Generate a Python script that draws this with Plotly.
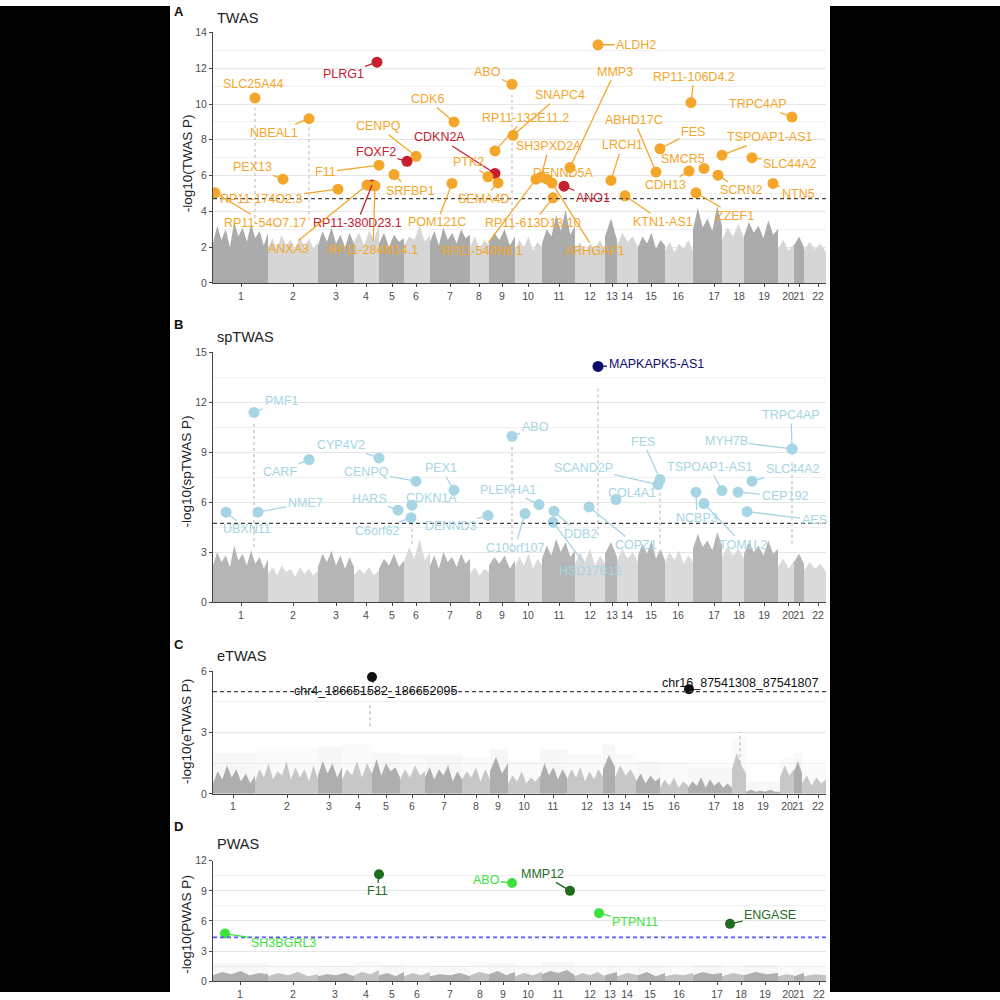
import plotly.graph_objects as go

FONT = "Liberation Sans, Arial, sans-serif"
CHR = [str(i) for i in range(1, 23)]

# ---- chromosome layout (cumulative position, arbitrary units) ----
bounds_abd = [0, 55, 105, 141, 166, 191, 217, 257, 276, 302, 329, 362, 392, 404, 425, 452, 480, 509, 531, 565, 581, 591, 613]
bounds_c = [0, 42, 105, 129, 159, 187, 212, 249, 277, 295, 327, 354, 390, 402, 423, 447, 475, 519, 533, 567, 581, 589, 613]
ticks_a = [28, 80, 123, 153, 179, 203, 237, 266, 289, 315, 346, 377, 399, 414, 438, 465, 501, 526, 551, 575, 586, 605]
ticks_c = [20, 74, 116, 145, 173, 199, 231, 263, 285, 311, 340, 374, 395, 412, 435, 461, 501, 525, 550, 574, 585, 605]
ticks_d = [27, 80, 122, 153, 179, 204, 237, 267, 290, 315, 345, 377, 397, 414, 437, 466, 504, 528, 552, 575, 586, 606]

# ---- background (sub-threshold) signal profile along each chromosome ----
bgA = [
    [2.2, 3.2, 2.4, 3.0, 2.0, 3.4, 2.6, 3.1, 2.3, 3.3, 2.5, 2.9, 2.1, 2.8],
    [2.0, 2.5, 1.9, 2.7, 2.1, 2.4, 1.8, 2.6, 2.0, 2.5, 1.9, 2.3],
    [2.1, 2.9, 2.3, 3.1, 2.2, 2.7, 2.0, 2.8, 2.2],
    [2.3, 2.8, 2.1, 2.9, 2.4, 3.3],
    [2.2, 2.8, 2.0, 2.7, 2.3, 2.5],
    [2.1, 2.6, 2.4, 3.2, 2.3, 2.7],
    [2.3, 2.9, 2.1, 3.1, 2.4, 2.8, 2.2, 3.0, 2.5, 2.7],
    [2.0, 2.6, 1.9, 2.4, 2.1],
    [2.2, 2.8, 2.4, 3.0, 2.1, 2.6],
    [1.9, 2.4, 2.0, 2.6, 1.8, 2.3, 2.0],
    [2.2, 3.0, 2.6, 3.8, 2.9, 4.1, 2.7, 3.2],
    [1.8, 2.3, 1.7, 2.2, 1.9, 2.4, 1.8],
    [2.6, 3.6, 2.4],
    [2.1, 2.8, 2.3, 2.6, 2.0],
    [2.0, 2.6, 2.2, 2.8, 1.9, 2.4, 2.1],
    [1.8, 2.3, 1.7, 2.2, 1.9, 2.4, 1.8],
    [3.0, 4.2, 3.1, 3.6, 2.9, 4.3, 3.2],
    [2.4, 3.1, 2.6, 3.3, 2.5],
    [2.6, 3.4, 2.8, 3.2, 2.5, 3.5, 2.7, 3.0],
    [1.9, 2.4, 1.8, 2.2],
    [2.1, 2.6, 2.0],
    [1.8, 2.3, 1.9, 2.2, 1.7],
]
bgB = [
    [2.2, 3.0, 2.4, 2.8, 2.1, 3.4, 2.5, 2.9, 2.2, 3.1, 2.3, 2.7, 2.0, 2.6],
    [1.7, 2.1, 1.6, 2.2, 1.8, 2.0, 1.5, 2.1, 1.7, 2.0, 1.6, 1.9],
    [2.1, 2.9, 2.4, 3.1, 2.2, 2.8, 2.0, 2.7, 2.1],
    [1.6, 2.0, 1.7, 2.1, 1.6, 1.9],
    [2.0, 2.6, 2.2, 2.9, 2.1, 2.5],
    [2.4, 3.3, 2.6, 3.8, 2.5, 3.0],
    [2.2, 2.8, 2.0, 3.0, 2.4, 2.7, 2.1, 2.9, 2.3, 2.6],
    [1.7, 2.1, 1.6, 2.0, 1.8],
    [2.2, 2.7, 2.3, 2.8, 2.0, 2.5],
    [2.1, 2.7, 2.2, 2.9, 2.0, 2.6, 2.2],
    [2.6, 3.4, 2.8, 3.8, 3.0, 3.6, 2.7, 3.1],
    [2.3, 3.0, 2.4, 3.2, 2.2, 2.8, 2.3],
    [2.9, 3.6, 2.7],
    [2.5, 3.2, 2.6, 3.0, 2.4],
    [2.8, 3.5, 2.9, 3.7, 2.6, 3.2, 2.5],
    [2.4, 3.0, 2.5, 3.1, 2.3, 2.8, 2.4],
    [3.2, 4.1, 3.3, 3.7, 3.1, 4.2, 3.4],
    [2.7, 3.3, 2.8, 3.2, 2.6],
    [2.9, 3.6, 3.0, 3.4, 2.8, 3.7, 2.9, 3.2],
    [2.1, 2.6, 2.0, 2.5],
    [2.4, 2.9, 2.3],
    [1.9, 2.4, 2.0, 2.3, 1.8],
]
bgC = [
    [0.5, 1.1, 0.7, 1.4, 0.8, 1.2, 0.6, 1.0, 0.5, 0.9],
    [0.6, 1.2, 0.8, 1.5, 0.7, 1.1, 0.9, 1.6, 0.7, 1.3, 0.8, 1.2, 0.6, 1.4, 0.7],
    [0.9, 1.6, 1.0, 1.5, 0.8, 1.3],
    [0.7, 1.2, 0.9, 1.6, 0.8, 1.5, 1.0],
    [1.0, 1.7, 0.9, 1.5, 1.1, 1.3, 0.8],
    [0.7, 1.2, 0.8, 1.4, 0.9, 1.1],
    [0.8, 1.3, 0.7, 1.2, 0.9, 1.4, 0.6, 1.1, 0.7],
    [0.7, 1.1, 0.8, 1.3, 0.6, 1.2, 0.7],
    [1.1, 1.8, 1.0, 1.5],
    [0.5, 0.9, 0.6, 1.1, 0.5, 0.8, 0.6, 0.9],
    [0.8, 1.5, 0.9, 1.3, 0.7, 1.2, 0.8],
    [0.7, 1.2, 0.8, 1.3, 0.6, 1.1, 0.7, 1.2, 0.8],
    [1.2, 1.9, 1.3],
    [0.8, 1.4, 0.9, 1.2, 0.7],
    [0.6, 1.0, 0.5, 0.9, 0.6, 0.8],
    [0.3, 0.7, 0.4, 0.8, 0.3, 0.6, 0.4],
    [0.3, 0.6, 0.4, 0.8, 0.3, 0.7, 0.4, 0.6, 0.3, 0.5, 0.3],
    [1.2, 2.0, 1.4, 1.0],
    [0.1, 0.2, 0.1, 0.15, 0.1, 0.2, 0.1, 0.1],
    [0.8, 1.4, 0.9, 1.2],
    [1.1, 1.6, 1.0],
    [0.5, 0.9, 0.4, 0.8, 0.5, 0.7],
]
bgC_fuzz = [2.0, 2.2, 2.3, 2.4, 2.0, 2.0, 1.9, 1.8, 2.2, 1.6, 2.2, 2.0, 2.4, 2.0, 1.6, 1.5, 1.3, 2.7, 0.6, 1.7, 2.0, 1.3]
bgD = [
    [0.6, 0.9, 0.7, 1.0, 0.6, 0.8, 0.7], [0.5, 0.8, 0.6, 0.9, 0.5, 0.7], [0.5, 0.7, 0.6, 0.8, 0.5],
    [0.6, 0.9, 0.7, 1.1], [0.6, 0.8, 0.5, 0.9], [0.5, 0.8, 0.6, 0.9], [0.5, 0.7, 0.6, 0.8, 0.5],
    [0.6, 0.9, 0.7], [0.7, 1.0, 0.6, 0.9], [0.5, 0.8, 0.6, 0.9], [0.7, 1.0, 0.8, 1.1, 0.6],
    [0.5, 0.8, 0.6, 0.9, 0.5], [0.6, 0.9], [0.5, 0.8, 0.6], [0.6, 0.9, 0.5, 0.8], [0.5, 0.7, 0.6, 0.8],
    [0.6, 0.9, 0.7, 0.8], [0.5, 0.8, 0.6], [0.6, 0.9, 0.7, 0.8], [0.5, 0.7, 0.6], [0.5, 0.8], [0.5, 0.7, 0.6],
]
bgD_fuzz = [1.8, 1.6, 1.5, 1.9, 1.7, 1.6, 1.5, 1.8, 1.8, 1.6, 1.9, 1.6, 1.6, 1.5, 1.6, 1.5, 1.7, 1.5, 1.6, 1.4, 1.4, 1.4]

# columns of sub-threshold points under strong hits
spikeA_pos = [42, 96, 299]
spikeA_lo = [3.3, 3.5, 3.0]
spikeA_hi = [9.8, 8.8, 10.5]
spikeB_pos = [41, 299, 447, 579, 385, 199]
spikeB_lo = [3.3, 3.0, 3.5, 3.5, 4.0, 3.5]
spikeB_hi = [10.8, 9.3, 6.8, 8.5, 13.0, 5.0]
spikeC_pos = [157, 527]
spikeC_lo = [3.3, 1.5]
spikeC_hi = [4.4, 3.0]

# ---- significant hits ----
twas_gene = ["SLC25A44", "PLRG1", "NBEAL1", "CDK6", "CENPQ", "CDKN2A", "FOXF2", "PEX13", "F11", "SRFBP1",
             "PTK2", "RP11-174O2.3", "RP11-380D23.1", "ANXA3", "RP11-284M14.1", "RP11-54O7.17", "POM121C",
             "SEMA4D", "RP11-540N6.1", "SH3PXD2A", "DENND5A", "ARHGAP1", "RP11-613D13.10", "ANO1", "ALDH2",
             "ABO", "MMP3", "RP11-106D4.2", "TRPC4AP", "SNAPC4", "RP11-132E11.2", "ABHD17C", "FES",
             "TSPOAP1-AS1", "SLC44A2", "SMCR5", "CDH13", "LRCH1", "KTN1-AS1", "ZZEF1", "SCRN2", "NTN5"]
twas_pos = [42, 164, 96, 241, 203, 282, 194, 70, 166, 181, 275, 125, 159, 154, 162, 2, 239, 285, 323, 328,
            334, 339, 340, 351, 385, 299, 357, 478, 579, 300, 282, 443, 447, 509, 539, 491, 476, 398, 412,
            483, 505, 560]
twas_logp = [10.33, 12.34, 9.18, 9.0, 7.08, 6.12, 6.8, 5.8, 6.58, 6.06, 5.93, 5.24, 5.47, 5.47, 5.43, 5.04,
             5.56, 5.59, 5.80, 5.91, 5.80, 5.58, 4.76, 5.41, 13.31, 11.1, 6.45, 10.08, 9.27, 8.25, 7.38,
             6.2, 7.5, 7.14, 7.0, 6.4, 6.25, 5.73, 4.87, 5.04, 6.02, 5.56]
twas_red = ["PLRG1", "CDKN2A", "FOXF2", "RP11-380D23.1", "ANO1"]
twas_off = [(-2, -14), (-34, 12), (-35, 14), (-27, -23), (-38, -30), (-56, -36), (-31, -9), (-31, -12),
            (-54, 7), (16, 16), (-20, -15), (-77, 10), (-15, 38), (-79, 64), (-2, 64), (50, 30), (-15, 39),
            (-15, 16), (-54, 72), (8, -31), (16, -6), (43, 68), (-20, 25), (29, 12), (38, 0), (-25, -12),
            (45, -96), (3, -26), (-34, -13), (47, -40), (30, -33), (-22, -52), (33, -17), (47, -18), (38, 6),
            (-21, -9), (-24, 14), (11, -35), (38, 26), (39, 23), (23, 15), (25, 11)]

sp_gene = ["PMF1", "CARF", "CYP4V2", "CENPQ", "PEX1", "NME7", "UBXN11", "HARS", "CDKN1A", "C6orf62",
           "DENND3", "PLEKHA1", "C10orf107", "ABO", "DDB2", "HSD17B12", "COPZ1", "COL4A1", "SCAND2P", "FES",
           "MAPKAPK5-AS1", "MYH7B", "TRPC4AP", "TSPOAP1-AS1", "SLC44A2", "CEP192", "NCBP3", "TOM1L2", "AES"]
sp_pos = [41, 96, 166, 203, 241, 45, 13, 185, 199, 198, 275, 326, 312, 299, 341, 340, 376, 403, 445, 447,
          385, 579, 579, 509, 539, 525, 483, 491, 534]
sp_logp = [11.38, 8.55, 8.65, 7.25, 6.71, 5.39, 5.39, 5.51, 5.81, 5.06, 5.2, 5.85, 5.31, 9.95, 5.45, 4.79,
           5.71, 6.15, 7.05, 7.35, 14.14, 9.19, 9.19, 6.69, 7.25, 6.59, 6.59, 5.91, 5.42]
sp_top = ["MAPKAPK5-AS1"]
sp_off = [(27, -11), (-29, 12), (-38, -13), (-50, -9), (-13, -22), (47, -9), (21, 17), (-29, -11), (19, -7),
          (-34, 13), (-38, 11), (-31, -15), (-10, 34), (23, -9), (26, 23), (37, 49), (47, 38), (16, -7),
          (-75, -17), (-17, -38), (58, -2), (-66, -8), (-1, -34), (-13, -24), (41, -12), (47, 4), (1, 26),
          (39, 41), (67, 8)]

e_id = ["chr4_186651582_186652095", "chr16_87541308_87541807"]
e_pos = [159, 476]
e_logp = [5.71, 5.12]
e_off = [(3, 14), (51, -6)]

p_gene = ["SH3BGRL3", "F11", "ABO", "MMP12", "PTPN11", "ENGASE"]
p_pos = [12, 166, 299, 357, 386, 517]
p_logp = [4.74, 10.65, 9.78, 9.0, 6.78, 5.71]
p_dark = ["F11", "MMP12", "ENGASE"]
p_off = [(58, 9), (-2, 17), (-26, -3), (-28, -17), (36, 9), (40, -9)]

thresholds = [4.71, 4.72, 5.0, 4.36]

# ---- colours ----
ORANGE = "#F4A62A"
RED = "#C5202E"
LBLUE = "#A6D5E3"
NAVY = "#0B0B6B"
DGREEN = "#1F6B1F"
BGREEN = "#3BE33B"

fig = go.Figure()


def ax_names(k):
    s = "" if k == 1 else str(k)
    return "x" + s, "y" + s


def add_profile(k, bounds, prof, dark, light, op):
    xa, ya = ax_names(k)
    for i in range(22):
        a, b = bounds[i], bounds[i + 1]
        n = len(prof[i])
        if n == 1:
            xs = [a, b]
            ys = [prof[i][0], prof[i][0]]
        else:
            xs = [a + (b - a) * j / (n - 1) for j in range(n)]
            ys = list(prof[i])
        col = dark if i % 2 == 0 else light
        fig.add_trace(go.Scatter(x=[a] + xs + [b], y=[0] + ys + [0], mode="lines", fill="toself",
                                 fillcolor=col, line=dict(width=0, color=col), opacity=op,
                                 xaxis=xa, yaxis=ya, hoverinfo="skip", showlegend=False))


def add_fuzz(k, bounds, fuzz, dark, light, op):
    xa, ya = ax_names(k)
    fx = [(bounds[i] + bounds[i + 1]) / 2 for i in range(22)]
    fw = [bounds[i + 1] - bounds[i] for i in range(22)]
    fc = [dark if i % 2 == 0 else light for i in range(22)]
    fig.add_trace(go.Bar(x=fx, y=fuzz, width=fw, marker=dict(color=fc, line=dict(width=0)),
                         opacity=op, xaxis=xa, yaxis=ya, hoverinfo="skip", showlegend=False))


def add_spikes(k, pos, lo, hi, color):
    xa, ya = ax_names(k)
    xs, ys = [], []
    for p, l, h in zip(pos, lo, hi):
        xs += [p, p, None]
        ys += [l, h, None]
    fig.add_trace(go.Scatter(x=xs, y=ys, mode="lines", line=dict(color=color, width=1.6, dash="dot"),
                             opacity=0.55, xaxis=xa, yaxis=ya, hoverinfo="skip", showlegend=False))


add_profile(1, bounds_abd, bgA, "#ababab", "#d6d6d6", 1.0)
add_profile(2, bounds_abd, bgB, "#b5b5b5", "#dadada", 1.0)
add_fuzz(3, bounds_c, bgC_fuzz, "#9a9a9a", "#b8b8b8", 0.08)
add_profile(3, bounds_c, bgC, "#8f8f8f", "#b0b0b0", 0.7)
add_fuzz(4, bounds_abd, bgD_fuzz, "#9a9a9a", "#b8b8b8", 0.08)
add_profile(4, bounds_abd, bgD, "#909090", "#ababab", 0.7)
add_spikes(1, spikeA_pos, spikeA_lo, spikeA_hi, "#b0b0b0")
add_spikes(2, spikeB_pos, spikeB_lo, spikeB_hi, "#a8a8a8")
add_spikes(3, spikeC_pos, spikeC_lo, spikeC_hi, "#a0a0a0")

annots = []


def add_hits(k, names, pos, logp, colors, offs, size, fsize):
    xa, ya = ax_names(k)
    fig.add_trace(go.Scatter(x=pos, y=logp, mode="markers",
                             marker=dict(color=colors, size=size, line=dict(width=0)),
                             xaxis=xa, yaxis=ya, hoverinfo="skip", showlegend=False))
    for n, p, v, c, (dx, dy) in zip(names, pos, logp, colors, offs):
        annots.append(dict(x=p, y=v, xref=xa, yref=ya, text=n, showarrow=True, arrowhead=0,
                           arrowwidth=1.3, arrowcolor=c, ax=dx, ay=dy, standoff=0,
                           font=dict(family=FONT, size=fsize, color=c)))


add_hits(1, twas_gene, twas_pos, twas_logp, [RED if g in twas_red else ORANGE for g in twas_gene],
         twas_off, 11, 12.5)
add_hits(2, sp_gene, sp_pos, sp_logp, [NAVY if g in sp_top else LBLUE for g in sp_gene], sp_off, 11, 12.5)
add_hits(3, e_id, e_pos, e_logp, ["#111111"] * len(e_id), e_off, 10, 12.5)
add_hits(4, p_gene, p_pos, p_logp, [DGREEN if g in p_dark else BGREEN for g in p_gene], p_off, 10, 12.5)

# ---- layout: 4 stacked panels ----
panels = [
    ([0.7191, 0.9732], [0, 14], list(range(0, 15, 2)), 1, ticks_a, "A", "TWAS", "-log10(TWAS P)", 0.8406, 0.994, 0.988),
    ([0.3955, 0.649], [0, 15], list(range(0, 16, 3)), 1.5, ticks_a, "B", "spTWAS", "-log10(spTWAS P)", 0.5278, 0.6766, 0.6645),
    ([0.201, 0.3254], [0, 6], [0, 3, 6], 1.5, ticks_c, "C", "eTWAS", "-log10(eTWAS P)", 0.2637, 0.3527, 0.3406),
    ([0.011, 0.1331], [0, 12], [0, 3, 6, 9, 12], 1.5, ticks_d, "D", "PWAS", "-log10(PWAS P)", 0.0683, 0.1675, 0.1503),
]

layout = dict(width=1000, height=1000, margin=dict(l=0, r=0, t=0, b=0), paper_bgcolor="white",
              plot_bgcolor="white", barmode="overlay", showlegend=False, font=dict(family=FONT))
shapes = []
for i, (ydom, yr, ytv, mdt, xt, letter, title, ytitle, yty, ly, ty) in enumerate(panels):
    k = i + 1
    s = "" if k == 1 else str(k)
    layout["xaxis" + s] = dict(domain=[0.213, 0.826], range=[0, 613], anchor="y" + s, tickvals=xt,
                               ticktext=CHR, ticks="outside", ticklen=3, tickcolor="#444", tickangle=0,
                               showline=True, linecolor="#444", linewidth=1, showgrid=False,
                               zeroline=False, tickfont=dict(size=10.5, color="#4d4d4d", family=FONT))
    layout["yaxis" + s] = dict(domain=ydom, range=yr, anchor="x" + s, tickvals=ytv, ticks="outside",
                               ticklen=3, tickcolor="#444", showline=True, linecolor="#444", linewidth=1,
                               showgrid=True, gridcolor="#e6e6e6", gridwidth=1, zeroline=False,
                               minor=dict(dtick=mdt, showgrid=True, gridcolor="#f0f0f0", gridwidth=0.8),
                               tickfont=dict(size=10.5, color="#4d4d4d", family=FONT))
    thr_color = "#5c5cff" if k == 4 else "#444444"
    thr_width = 1.8 if k == 4 else 1.4
    shapes.append(dict(type="line", xref="x" + s + " domain", yref="y" + s, x0=0, x1=1,
                       y0=thresholds[i], y1=thresholds[i],
                       line=dict(color=thr_color, width=thr_width, dash="4px,3px")))
    annots.append(dict(x=0.172, y=ly, xref="paper", yref="paper", text="<b>" + letter + "</b>",
                       showarrow=False, xanchor="left", yanchor="middle",
                       font=dict(size=13, color="#111", family=FONT)))
    annots.append(dict(x=0.215, y=ty, xref="paper", yref="paper", text=title, showarrow=False,
                       xanchor="left", yanchor="middle", font=dict(size=14.5, color="#222", family=FONT)))
    annots.append(dict(x=0.187, y=yty, xref="paper", yref="paper", text=ytitle, showarrow=False,
                       textangle=-90, xanchor="center", yanchor="middle",
                       font=dict(size=13.5, color="#222", family=FONT)))

# black side bands of the figure image
shapes.append(dict(type="rect", xref="paper", yref="paper", x0=0, x1=0.17, y0=0, y1=1,
                   fillcolor="black", line=dict(width=0), layer="above"))
shapes.append(dict(type="rect", xref="paper", yref="paper", x0=0.83, x1=1, y0=0, y1=1,
                   fillcolor="black", line=dict(width=0), layer="above"))

layout["shapes"] = shapes
layout["annotations"] = annots
fig.update_layout(**layout)
fig.write_html("out.html", config={"displayModeBar": False},
               post_script="document.body.style.margin='0';document.body.style.overflow='hidden';")
